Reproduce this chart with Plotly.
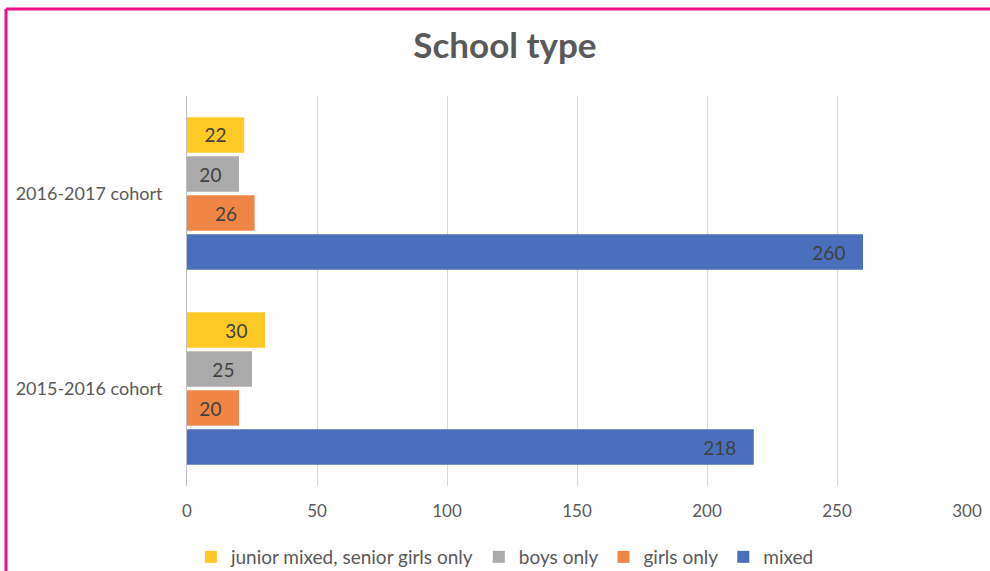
import plotly.graph_objects as go

# Cohorts (bottom to top) and the number of schools of each type
cohorts = ["2015-2016 cohort", "2016-2017 cohort"]
mixed = [218, 260]
girls_only = [20, 26]
boys_only = [25, 20]
junior_mixed_senior_girls = [30, 22]

series = [
    ("mixed", mixed, "#4a70bd"),
    ("girls only", girls_only, "#f08646"),
    ("boys only", boys_only, "#ababab"),
    ("junior mixed, senior girls only", junior_mixed_senior_girls, "#ffc925"),
]

x_ticks = [0, 50, 100, 150, 200, 250, 300]

FONT = "Lato, Carlito, 'Open Sans', sans-serif"
TXT = "#595959"

fig = go.Figure()
for name, vals, color in series:
    fig.add_trace(go.Bar(
        y=cohorts,
        x=vals,
        name=name,
        orientation="h",
        marker=dict(color=color, line=dict(width=0)),
        text=[f"{v}\u00a0\u00a0\u00a0" for v in vals],
        textposition="inside",
        insidetextanchor="end",
        textfont=dict(family=FONT, size=19, color="#404040"),
        cliponaxis=False,
    ))

fig.update_layout(
    width=990,
    height=571,
    barmode="group",
    bargap=0.2,
    bargroupgap=0.09,
    paper_bgcolor="white",
    plot_bgcolor="white",
    margin=dict(l=187, r=23, t=96, b=85, autoexpand=False),
    title=dict(
        text="<b>School type</b>",
        x=0.51,
        xanchor="center",
        y=0.92,
        yanchor="middle",
        font=dict(family=FONT, size=35, color=TXT),
    ),
    xaxis=dict(
        range=[0, 300],
        tickvals=x_ticks,
        showgrid=True,
        gridcolor="#d9d9d9",
        gridwidth=1,
        zeroline=False,
        showline=False,
        ticks="",
        ticklabelstandoff=13,
        tickfont=dict(family=FONT, size=17, color=TXT),
        fixedrange=True,
    ),
    yaxis=dict(
        categoryorder="array",
        categoryarray=cohorts,
        showgrid=False,
        showline=True,
        linecolor="#bfbfbf",
        linewidth=1,
        ticks="",
        ticklabelstandoff=20,
        tickfont=dict(family=FONT, size=18, color=TXT),
        fixedrange=True,
    ),
    legend=dict(
        orientation="h",
        traceorder="reversed",
        xref="container",
        yref="container",
        x=0.51,
        xanchor="center",
        y=1 - 557 / 571,
        yanchor="middle",
        font=dict(family=FONT, size=19, color=TXT),
        itemwidth=30,
    ),
    showlegend=True,
)

# frame edges placed in pixel terms relative to the plot area (x: 187..967, y: 96..486)
px_l, px_r, px_t, px_b = 187, 967, 96, 486
def to_paper(xp, yp):
    return (xp - px_l) / (px_r - px_l), (px_b - yp) / (px_b - px_t)

xl, yt = to_paper(6, 9)
xr, yb = to_paper(995, 580)
fig.add_shape(type="line", xref="paper", yref="paper", x0=xl, x1=xl, y0=yb, y1=yt,
              line=dict(color="#ee0f8c", width=3))
fig.add_shape(type="line", xref="paper", yref="paper", x0=xl, x1=xr, y0=yt, y1=yt,
              line=dict(color="#ee0f8c", width=3))

fig.write_html("out.html", config={"displayModeBar": False})
